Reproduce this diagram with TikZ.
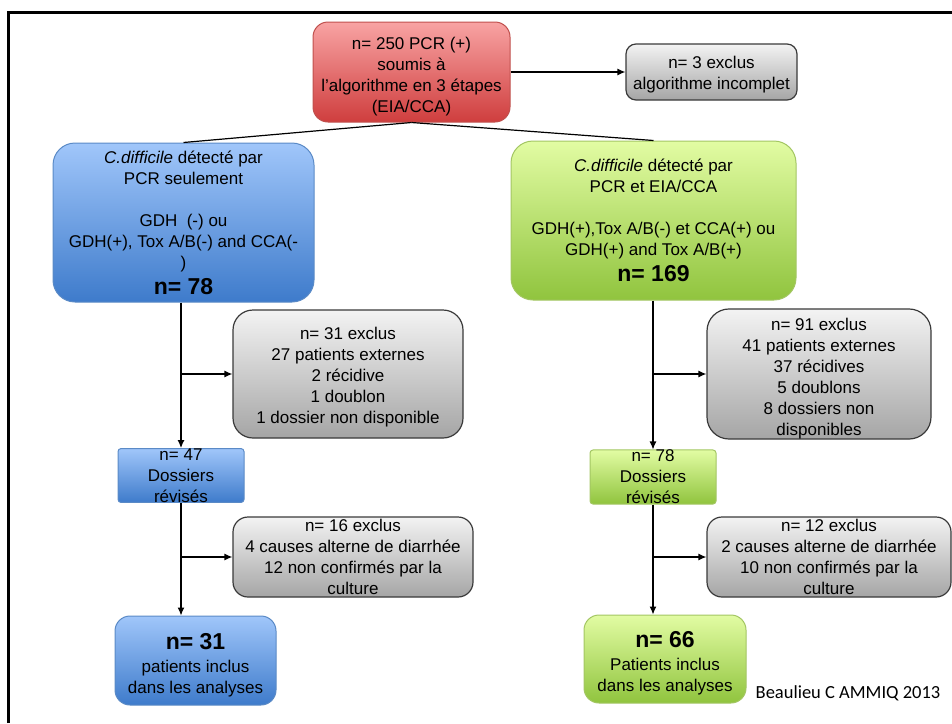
\documentclass[tikz,border=0pt]{standalone}
\usepackage{fontspec}
\setmainfont{Liberation Sans}
\newfontfamily\creditfont{Carlito}
\usepackage{tikz}
\usetikzlibrary{arrows.meta}
\definecolor{redtop}{HTML}{F8A3A3}
\definecolor{redbot}{HTML}{CF3E3E}
\definecolor{redline}{HTML}{C0504D}
\definecolor{bluetop}{HTML}{A0C6FA}
\definecolor{bluebot}{HTML}{3E7BCB}
\definecolor{blueline}{HTML}{5A8AC6}
\definecolor{greentop}{HTML}{E2FCA3}
\definecolor{greenbot}{HTML}{90C43E}
\definecolor{greenline}{HTML}{A3C663}
\definecolor{greytop}{HTML}{F3F3F3}
\definecolor{greybot}{HTML}{A5A5A5}
\definecolor{greyline}{HTML}{3A3A3A}
\tikzstyle{box} = [draw, align=center, inner sep=0pt, line width=1pt, font=\fontsize{17}{21}\selectfont]
\tikzstyle{redbox} = [box, draw=redline, top color=redtop, bottom color=redbot]
\tikzstyle{bluebox} = [box, draw=blueline, top color=bluetop, bottom color=bluebot]
\tikzstyle{greenbox} = [box, draw=greenline, top color=greentop, bottom color=greenbot]
\tikzstyle{greybox} = [box, draw=greyline, top color=greytop, bottom color=greybot, line width=1.2pt]
\tikzstyle{arrow} = [draw, -{Latex[length=8pt,width=7pt]}, line width=1.2pt]
\tikzstyle{link} = [draw, line width=1.2pt]
% strut on the first line pushes the text block down a little
\newcommand{\down}[1]{\rule{0pt}{#1}}
\newcommand{\bignum}[1]{{\fontsize{23}{21}\selectfont\bfseries #1}}

\begin{document}
\begin{tikzpicture}[x=1pt, y=-1pt]
\useasboundingbox (0,0) rectangle (952,723);
\draw[line width=3pt] (8,723) -- (8,12) -- (952,12);

% top
\node[redbox, rounded corners=15pt, minimum width=197pt, minimum height=100pt] at (411.5,72) (pcr) {\down{22.5pt}n= 250 PCR (+)\\ soumis à\\ l’algorithme en 3 étapes\\ (EIA/CCA)};
\node[greybox, rounded corners=10pt, minimum width=171pt, minimum height=56pt] at (711.5,72) (incomplet) {\down{18.5pt}n= 3 exclus\\ algorithme incomplet};
\path[arrow] (pcr.east) -- (incomplet.west);

% two groups
\node[bluebox, rounded corners=22pt, minimum width=261pt, minimum height=159pt] at (183.5,222.5) (pcrseul) {\textit{C.difficile} détecté par\\ PCR seulement\\[21pt] GDH~~(-) ou\\ GDH(+), Tox A/B(-) and CCA(-\\ )\\[5pt] \bignum{n= 78}};
\node[greenbox, rounded corners=22pt, minimum width=285pt, minimum height=159pt] at (653.5,220.5) (pcreia) {\textit{C.difficile} détecté par\\ PCR et EIA/CCA\\[21pt] GDH(+),Tox A/B(-) et CCA(+) ou\\ GDH(+) and Tox A/B(+)\\[5pt] \bignum{n= 169}};
\path[link] (pcr.south) -- (pcrseul.north);
\path[link] (pcr.south) -- (pcreia.north);

% left column
\node[greybox, rounded corners=20pt, minimum width=230pt, minimum height=128pt] at (348,374) (excl31) {\down{18.5pt}n= 31 exclus\\ 27 patients externes\\ 2 récidive\\ 1 doublon\\ 1 dossier non disponible};
\node[bluebox, rounded corners=3pt, minimum width=126pt, minimum height=53pt] at (181,475.5) (dos47) {n= 47\\ Dossiers\\ révisés};
\node[greybox, rounded corners=15pt, minimum width=240pt, minimum height=80pt] at (353,557) (excl16) {n= 16 exclus\\ 4 causes alterne de diarrhée\\ 12 non confirmés par la\\ culture};
\node[bluebox, rounded corners=15pt, minimum width=161pt, minimum height=89pt] at (195.5,660.5) (inclus31) {\down{25.5pt}\bignum{n= 31}\\[2pt] patients inclus\\ dans les analyses};
\coordinate (split31) at (181,374);
\coordinate (split16) at (181,557);
\path[arrow] (pcrseul.south -| dos47.north) -- (dos47.north);
\path[arrow] (split31) -- (excl31.west);
\path[arrow] (dos47.south) -- (dos47.south |- inclus31.north);
\path[arrow] (split16) -- (excl16.west);

% right column
\node[greybox, rounded corners=22pt, minimum width=224pt, minimum height=128pt] at (819,374) (excl91) {\down{21.5pt}n= 91 exclus\\ 41 patients externes\\ 37 récidives\\ 5 doublons\\ 8 dossiers non\\ disponibles};
\node[greenbox, rounded corners=3pt, minimum width=126pt, minimum height=52pt] at (653,477) (dos78) {n= 78\\ Dossiers\\ révisés};
\node[greybox, rounded corners=15pt, minimum width=244pt, minimum height=80pt] at (829,557) (excl12) {n= 12 exclus\\ 2 causes alterne de diarrhée\\ 10 non confirmés par la\\ culture};
\node[greenbox, rounded corners=15pt, minimum width=162pt, minimum height=88pt] at (665,659) (inclus66) {\down{25.5pt}\bignum{n= 66}\\[2pt] Patients inclus\\ dans les analyses};
\coordinate (split91) at (653,374);
\coordinate (split12) at (653,557);
\path[arrow] (pcreia.south -| dos78.north) -- (dos78.north);
\path[arrow] (split91) -- (excl91.west);
\path[arrow] (dos78.south) -- (dos78.south |- inclus66.north);
\path[arrow] (split12) -- (excl12.west);

\node[font=\creditfont\fontsize{18.5}{21}\selectfont] at (848,693) (credit) {Beaulieu C AMMIQ 2013};
\end{tikzpicture}
\end{document}
